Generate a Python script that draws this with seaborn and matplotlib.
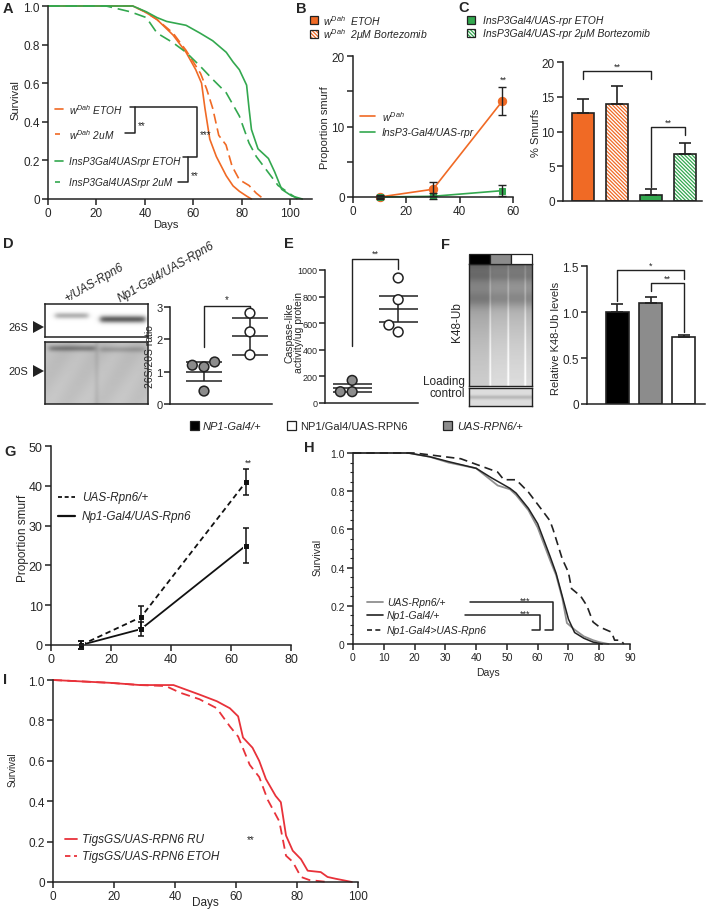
import numpy as np
import pandas as pd
import matplotlib
matplotlib.use("Agg")
import matplotlib.pyplot as plt
import seaborn as sns
from matplotlib.patches import Rectangle, Polygon
from matplotlib.lines import Line2D

# ---------------- data ----------------
# A: survival
a_days_w_etoh = [0, 35, 40, 45, 51.6, 57, 61, 63.4, 64.8, 66.8, 69.5, 73.6, 76.4, 79, 82, 84]
a_surv_w_etoh = [1.0, 1.0, 0.97, 0.93, 0.85, 0.76, 0.67, 0.60, 0.47, 0.31, 0.22, 0.12, 0.068, 0.04, 0.015, 0.0]
a_days_w_2um = [0, 35, 40, 45, 51.6, 57, 61, 63, 65.5, 68, 70.5, 73.5, 76, 79, 83, 86, 89]
a_surv_w_2um = [1.0, 1.0, 0.97, 0.93, 0.86, 0.77, 0.69, 0.65, 0.57, 0.47, 0.33, 0.28, 0.17, 0.10, 0.07, 0.03, 0.0]
a_days_rpr_etoh = [0, 35, 40.6, 45, 49, 57, 62.7, 68, 73.6, 76.4, 79, 82, 83, 84, 86.7, 91, 93.6, 96.5, 100.6, 105]
a_surv_rpr_etoh = [1.0, 1.0, 0.97, 0.94, 0.92, 0.90, 0.86, 0.82, 0.76, 0.71, 0.67, 0.59, 0.47, 0.36, 0.26, 0.21, 0.14, 0.05, 0.016, 0.0]
a_days_rpr_2um = [0, 24, 34, 40.6, 45, 51.6, 57, 62.7, 68, 73.6, 79, 83, 86, 89, 95, 99, 103]
a_surv_rpr_2um = [1.0, 1.0, 0.97, 0.94, 0.86, 0.81, 0.76, 0.69, 0.62, 0.55, 0.43, 0.29, 0.22, 0.17, 0.07, 0.035, 0.0]
a_labels = [r"$w^{Dah}$ ETOH", r"$w^{Dah}$ 2uM", "InsP3Gal4UASrpr ETOH", "InsP3Gal4UASrpr 2uM"]

# B: proportion smurf
b_days = [10, 30, 56]
b_w = [0.0, 1.1, 13.6]
b_w_err = [0.3, 1.0, 2.0]
b_rpr = [0.0, 0.1, 0.9]
b_rpr_err = [0.2, 0.4, 0.8]

# C: % smurfs
c_groups = ["wDah ETOH", "wDah 2uM", "rpr ETOH", "rpr 2uM"]
c_vals = [12.7, 14.0, 0.9, 6.7]
c_err = [2.0, 2.6, 0.8, 1.6]

# D: 26S/20S ratio
d_groups = ["+/UAS-Rpn6", "Np1-Gal4/UAS-Rpn6"]
d_ctrl = [1.2, 1.15, 1.3, 0.4]
d_rpn6 = [2.81, 2.23, 1.52]
d_means = [1.0, 2.1]
d_sems = [0.3, 0.57]

# E: caspase-like activity
e_ctrl = [170, 85, 85]
e_rpn6 = [940, 777, 534, 586]
e_means = [115, 707]
e_sems = [30, 95]

# F: relative K48-Ub
f_groups = ["NP1-Gal4/+", "UAS-RPN6/+", "NP1/Gal4/UAS-RPN6"]
f_vals = [1.0, 1.1, 0.73]
f_err = [0.09, 0.06, 0.02]

# G: proportion smurf
g_days = [10, 30, 65]
g_uas = [0.0, 7.0, 41.0]
g_uas_err = [1.0, 2.7, 3.3]
g_np1 = [0.0, 4.0, 25.0]
g_np1_err = [1.0, 1.7, 4.5]

# H: survival
h_days_uas = [0, 18, 25, 31, 40, 47, 51, 53, 57, 60, 64, 66, 68, 69.5, 72, 75, 78, 80, 83]
h_surv_uas = [1.0, 1.0, 0.98, 0.95, 0.92, 0.83, 0.81, 0.78, 0.70, 0.61, 0.44, 0.36, 0.24, 0.11, 0.075, 0.04, 0.02, 0.01, 0.0]
h_days_np1 = [0, 18, 25, 31, 40, 45, 51, 53, 57, 60, 64, 66, 68, 70, 72, 75, 78, 81]
h_surv_np1 = [1.0, 1.0, 0.98, 0.955, 0.92, 0.87, 0.815, 0.79, 0.71, 0.63, 0.46, 0.37, 0.25, 0.13, 0.06, 0.03, 0.01, 0.0]
h_days_oe = [0, 20, 35, 47, 49, 53, 57, 61, 64, 65, 68, 70, 71, 74, 76, 78, 80, 84, 85, 87, 88]
h_surv_oe = [1.0, 1.0, 0.97, 0.90, 0.86, 0.86, 0.795, 0.71, 0.645, 0.60, 0.445, 0.375, 0.29, 0.25, 0.20, 0.115, 0.09, 0.062, 0.02, 0.02, 0.0]

# I: survival
i_days_ru = [0, 18.7, 28.5, 39.5, 48, 53.7, 58, 60.7, 62.3, 65.4, 67.6, 69.8, 73, 74.7, 76.4, 78.6, 81.3, 83.5, 87.8, 90, 92.7, 95.4, 98]
i_surv_ru = [1.0, 0.986, 0.975, 0.975, 0.928, 0.895, 0.86, 0.82, 0.715, 0.665, 0.60, 0.51, 0.426, 0.395, 0.23, 0.155, 0.113, 0.056, 0.049, 0.025, 0.016, 0.008, 0.0]
i_days_etoh = [0, 18.7, 28.5, 37, 41.7, 48, 53.7, 58, 60.7, 64.5, 67.6, 70.4, 74.2, 76.4, 78.6, 81.3, 84, 87, 90]
i_surv_etoh = [1.0, 0.986, 0.975, 0.97, 0.937, 0.905, 0.86, 0.77, 0.72, 0.58, 0.52, 0.407, 0.30, 0.13, 0.10, 0.025, 0.01, 0.005, 0.0]

# ---------------- style ----------------
sns.set_style("ticks")
plt.rcParams["font.family"] = ["Liberation Sans", "DejaVu Sans"]
plt.rcParams["mathtext.fontset"] = "custom"
plt.rcParams["mathtext.rm"] = "Liberation Sans"
plt.rcParams["mathtext.it"] = "Liberation Sans:italic"
plt.rcParams["axes.linewidth"] = 1.1
plt.rcParams["hatch.linewidth"] = 0.9
plt.rcParams["axes.edgecolor"] = "#222222"

ORANGE = "#F06A25"
GREEN = "#33A84F"
RED = "#E8323A"
GREYH = "#8f8f8f"
GREYBAR = "#8c8c8c"
HATCH = "\\" * 9

W, H = 709, 912
fig = plt.figure(figsize=(W / 100, H / 100), dpi=100)


def ax_px(l, t, r, b):
    return fig.add_axes([l / W, 1 - b / H, (r - l) / W, (b - t) / H])


def style(ax, fs=8, pad=2):
    sns.despine(ax=ax)
    ax.set_facecolor("none")
    ax.tick_params(labelsize=fs, length=4, width=1.1, color="#222222", pad=pad)
    ax.set_xlabel("")
    ax.set_ylabel("")


def T(x, y, s, size=8, ha="left", va="center", **kw):
    fig.text(x / W, 1 - y / H, s, fontsize=size, ha=ha, va=va, **kw)


def L(xs, ys, lw=1.1, color="#222222", ls="-"):
    fig.add_artist(Line2D([x / W for x in xs], [1 - y / H for y in ys], lw=lw,
                          color=color, ls=ls, transform=fig.transFigure))


def SQ(x, y, w, h, fc, hatch=None, hc=None):
    if hatch:
        fig.add_artist(Rectangle((x / W, 1 - (y + h) / H), w / W, h / H, fc="white",
                                 ec=hc, hatch=hatch, lw=0, transform=fig.transFigure))
        fig.add_artist(Rectangle((x / W, 1 - (y + h) / H), w / W, h / H, fill=False,
                                 ec="#222222", lw=0.9, transform=fig.transFigure))
    else:
        fig.add_artist(Rectangle((x / W, 1 - (y + h) / H), w / W, h / H, fc=fc,
                                 ec="#222222", lw=0.9, transform=fig.transFigure))


def surv(ax, x, y, color, ls="-", lw=1.2):
    sns.lineplot(x=x, y=y, ax=ax, color=color, linestyle=ls, linewidth=lw,
                 estimator=None, sort=False)
    ax.lines[-1].set_clip_on(False)


def bracket_data(ax, x0, x1, ytop, yl, yr, lw=1.0):
    ax.plot([x0, x0, x1, x1], [yl, ytop, ytop, yr], color="#222222", lw=lw, clip_on=False)


def sig(z, s):
    return 1.0 / (1.0 + np.exp(-z / s))


# ---------------- panel A ----------------
axA = ax_px(48, 7, 312, 200)
surv(axA, a_days_w_etoh, a_surv_w_etoh, ORANGE)
surv(axA, a_days_w_2um, a_surv_w_2um, ORANGE, ls=(0, (6, 3)))
surv(axA, a_days_rpr_etoh, a_surv_rpr_etoh, GREEN)
surv(axA, a_days_rpr_2um, a_surv_rpr_2um, GREEN, ls=(0, (7, 3.5)))
axA.set_xlim(0, 109)
axA.set_ylim(0, 1.0)
axA.set_xticks([0, 20, 40, 60, 80, 100])
axA.set_yticks([0, 0.2, 0.4, 0.6, 0.8, 1.0])
axA.set_yticklabels(["0", "0.2", "0.4", "0.6", "0.8", "1.0"])
style(axA, 8.5)
T(15, 100, "Survival", 8, ha="center", rotation=90)
T(166, 225, "Days", 8, ha="center")
a_leg_y = [110, 135, 162, 183]
a_leg_c = [ORANGE, ORANGE, GREEN, GREEN]
a_leg_ls = ["-", (0, (3, 2)), "-", (0, (3, 2))]
for yy, cc, ll, lab in zip(a_leg_y, a_leg_c, a_leg_ls, a_labels):
    L([55, 63], [yy, yy], lw=1.2, color=cc, ls=ll)
    T(69, yy, lab, 7.3, style="italic")
L([130, 197, 197, 183], [108, 108, 158, 158])
L([135, 135, 125], [108, 134, 134])
T(138, 126, "**", 7)
L([188, 188, 178], [158, 183, 183])
T(200, 135, "***", 7)
T(191, 176, "**", 7)

# ---------------- panel B ----------------
axB = ax_px(353, 57, 513, 198)
sns.lineplot(x=b_days, y=b_w, ax=axB, color=ORANGE, marker="o", markersize=6,
             markeredgecolor=ORANGE, linewidth=1.2, estimator=None)
sns.lineplot(x=b_days, y=b_rpr, ax=axB, color=GREEN, marker="s", markersize=5,
             markeredgecolor=GREEN, linewidth=1.2, estimator=None)
axB.errorbar(b_days, b_w, yerr=b_w_err, fmt="none", ecolor="#222222", elinewidth=1.0, capsize=3, capthick=1.0)
axB.errorbar(b_days, b_rpr, yerr=b_rpr_err, fmt="none", ecolor="#222222", elinewidth=1.0, capsize=3, capthick=1.0)
for ln in axB.lines:
    ln.set_clip_on(False)
axB.set_xlim(0, 60)
axB.set_ylim(0, 20)
axB.set_xticks([0, 20, 40, 60])
axB.set_yticks([0, 10, 20])
axB.set_yticks([5, 15], minor=True)
axB.tick_params(which="minor", length=4, width=1.1)
style(axB, 8.5)
T(325, 128, "Proportion smurf", 8, ha="center", rotation=90)
T(503, 80, "**", 6.5, ha="center")
L([360, 375], [117, 117], lw=1.2, color=ORANGE)
L([360, 375], [133, 133], lw=1.2, color=GREEN)
T(382, 117, r"$w^{Dah}$", 7.5, style="italic")
T(382, 133, "InsP3-Gal4/UAS-rpr", 7.5, style="italic")
SQ(310, 17, 8, 8, ORANGE)
SQ(310, 31, 8, 8, None, hatch=HATCH, hc=ORANGE)
T(323, 21, r"$w^{Dah}$  ETOH", 7.5, style="italic")
T(323, 35, r"$w^{Dah}$  2μM Bortezomib", 7.5, style="italic")

# ---------------- panel C ----------------
axC = ax_px(563, 63, 702, 202)
sns.barplot(x=c_groups, y=c_vals, hue=c_groups, ax=axC, legend=False,
            palette=[ORANGE, "white", GREEN, "white"], width=0.65, saturation=1,
            edgecolor="#222222", linewidth=1.2, errorbar=None)
c_hatch_col = [None, ORANGE, None, GREEN]
for p, hc in zip(axC.patches, c_hatch_col):
    if hc:
        p.set_hatch(HATCH)
        p.set_edgecolor(hc)
        p.set_linewidth(0)
        axC.add_patch(Rectangle((p.get_x(), p.get_y()), p.get_width(), p.get_height(),
                                fill=False, ec="#222222", lw=1.2, zorder=p.get_zorder() + 0.1))
axC.errorbar(np.arange(len(c_vals)), c_vals, yerr=[np.zeros(len(c_err)), c_err], fmt="none",
             ecolor="#222222", elinewidth=1.2, capsize=4, capthick=1.2, zorder=3)
axC.set_xlim(-0.59, 3.5)
axC.set_ylim(0, 20)
axC.set_yticks([0, 5, 10, 15, 20])
axC.set_xticks([])
style(axC, 8.5)
bracket_data(axC, 0, 2, 18.7, 17.6, 17.6)
axC.text(1, 18.8, "**", fontsize=6.5, ha="center", va="bottom")
bracket_data(axC, 2, 3, 10.6, 2.0, 9.5)
axC.text(2.5, 10.7, "**", fontsize=6.5, ha="center", va="bottom")
T(536, 133, "% Smurfs", 8, ha="center", rotation=90)
SQ(467, 17, 8, 8, GREEN)
SQ(467, 30, 8, 8, None, hatch=HATCH, hc=GREEN)
T(483, 21, "InsP3Gal4/UAS-rpr ETOH", 7.5, style="italic")
T(483, 34, "InsP3Gal4/UAS-rpr 2μM Bortezomib", 7.5, style="italic")

# ---------------- panel D ----------------
yy, xx = np.mgrid[0:66, 0:206]
img = np.ones((66, 206))
img -= 0.30 * sig(xx - 20, 3) * sig(86 - xx, 3) * np.exp(-((yy - 24) / 6.0) ** 2)
img -= 0.62 * sig(xx - 110, 3) * sig(200 - xx, 3) * np.exp(-((yy - 31) / 7.0) ** 2)
axD1 = ax_px(45, 305, 148, 338)
axD1.imshow(img, cmap="gray", vmin=0, vmax=1, aspect="auto", interpolation="bilinear")
axD1.set_xticks([]); axD1.set_yticks([])
yy, xx = np.mgrid[0:124, 0:206]
img2 = 0.74 + 0.015 * np.sin(xx / 11.0 + yy / 17.0) + 0.03 * (yy / 124)
img2 -= 0.26 * sig(xx - 8, 3) * sig(100 - xx, 3) * np.exp(-((yy - 14) / 6.0) ** 2)
img2 -= 0.14 * sig(xx - 110, 3) * sig(200 - xx, 3) * np.exp(-((yy - 16) / 6.0) ** 2)
img2 -= 0.05 * np.exp(-((xx - 103) / 5.0) ** 2)
axD2 = ax_px(45, 343, 148, 405)
axD2.imshow(img2, cmap="gray", vmin=0, vmax=1, aspect="auto", interpolation="bilinear")
axD2.set_xticks([]); axD2.set_yticks([])
for a in (axD1, axD2):
    for s in a.spines.values():
        s.set_linewidth(1.1)
T(8, 328, "26S", 8)
T(8, 372, "20S", 8)
for yc in (328, 372):
    fig.add_artist(Polygon([(33 / W, 1 - (yc - 6) / H), (33 / W, 1 - (yc + 6) / H), (44 / W, 1 - yc / H)],
                           closed=True, fc="#222222", ec="none", transform=fig.transFigure))
T(67, 302, d_groups[0], 8.5, va="baseline", rotation=30, rotation_mode="anchor", style="italic")
T(120, 302, d_groups[1], 8.5, va="baseline", rotation=30, rotation_mode="anchor", style="italic")

axD = ax_px(170, 308, 272, 405)
d_df = pd.DataFrame({"g": ["a"] * len(d_ctrl) + ["b"] * len(d_rpn6), "v": d_ctrl + d_rpn6})
sns.swarmplot(data=d_df, x="g", y="v", hue="g", palette={"a": GREYBAR, "b": "white"},
              ax=axD, size=7, edgecolor="#222222", linewidth=1.1, legend=False, zorder=3)
for i, (m, s) in enumerate(zip(d_means, d_sems)):
    axD.hlines([m - s, m, m + s], i - 0.4, i + 0.4, color="#222222", lw=1.1, zorder=2)
    axD.vlines(i, m - s, m + s, color="#222222", lw=1.1, zorder=2)
axD.set_xlim(-0.74, 1.48)
axD.set_ylim(0, 3)
axD.set_yticks([0, 1, 2, 3])
axD.set_xticks([])
style(axD, 8, pad=1.5)
bracket_data(axD, 0, 1, 3.03, 1.76, 2.94)
axD.text(0.5, 3.08, "*", fontsize=7, ha="center", va="bottom")
T(150, 357, "26S/20S ratio", 7.5, ha="center", rotation=90)

# ---------------- panel E ----------------
axE = ax_px(325, 271, 418, 404)
e_df = pd.DataFrame({"g": ["a"] * len(e_ctrl) + ["b"] * len(e_rpn6), "v": e_ctrl + e_rpn6})
sns.swarmplot(data=e_df, x="g", y="v", hue="g", palette={"a": GREYBAR, "b": "white"},
              ax=axE, size=7, edgecolor="#222222", linewidth=1.1, legend=False, zorder=3)
for i, (m, s) in enumerate(zip(e_means, e_sems)):
    axE.hlines([m - s, m, m + s], i - 0.42, i + 0.42, color="#222222", lw=1.1, zorder=2)
    axE.vlines(i, m - s, m + s, color="#222222", lw=1.1, zorder=2)
axE.set_xlim(-0.59, 1.43)
axE.set_ylim(0, 1000)
axE.set_yticks([0, 200, 400, 600, 800, 1000])
axE.set_xticks([])
style(axE, 6.5, pad=1.5)
bracket_data(axE, 0, 1, 1083, 430, 1008)
axE.text(0.5, 1090, "**", fontsize=6.5, ha="center", va="bottom")
T(294, 333, "Caspase-like\nactivity/ug protein", 7.5, ha="center", rotation=90, linespacing=0.9)

# ---------------- panel F ----------------
SQ(469, 255, 21, 10, "black")
SQ(490, 255, 21, 10, GREYBAR)
SQ(511, 255, 21, 10, "white")
yy, xx = np.mgrid[0:244, 0:126]
img3 = 0.93 - 0.5 * np.exp(-yy / 120.0)
img3 -= 0.12 * np.exp(-((yy - 70) / 16.0) ** 2)
img3 -= 0.05 * np.exp(-((yy - 25) / 9.0) ** 2)
img3 -= 0.06 * sig(42 - xx, 2)
for xs in (42, 78, 112):
    img3 += 0.22 * np.exp(-((xx - xs) / 1.6) ** 2) * (1 - 0.6 * np.exp(-yy / 60.0))
img3 = np.clip(img3, 0, 1)
axF1 = ax_px(469, 265, 532, 387)
axF1.imshow(img3, cmap="gray", vmin=0, vmax=1, aspect="auto", interpolation="bilinear")
axF1.set_xticks([]); axF1.set_yticks([])
yy, xx = np.mgrid[0:36, 0:126]
img4 = 0.87 - 0.15 * np.exp(-((yy - 18) / 4.0) ** 2)
axF2 = ax_px(469, 389, 532, 407)
axF2.imshow(img4, cmap="gray", vmin=0, vmax=1, aspect="auto", interpolation="bilinear")
axF2.set_xticks([]); axF2.set_yticks([])
for a in (axF1, axF2):
    for s in a.spines.values():
        s.set_linewidth(1.0)
T(457, 322, "K48-Ub", 8.5, ha="center", rotation=90)
T(465, 388, "Loading\ncontrol", 8.5, ha="right", linespacing=1.0)

axF = ax_px(587, 267, 705, 405)
sns.barplot(x=f_groups, y=f_vals, hue=f_groups, ax=axF, legend=False,
            palette=["black", GREYBAR, "white"], width=0.69, saturation=1,
            edgecolor="#222222", linewidth=1.2, errorbar=None)
axF.errorbar(np.arange(len(f_vals)), f_vals, yerr=[np.zeros(len(f_err)), f_err], fmt="none",
             ecolor="#222222", elinewidth=1.2, capsize=4, capthick=1.2, zorder=3)
axF.set_xlim(-0.9, 2.63)
axF.set_ylim(0, 1.5)
axF.set_yticks([0, 0.5, 1.0, 1.5])
axF.set_yticklabels(["0", "0.5", "1.0", "1.5"])
axF.set_xticks([])
style(axF, 8.5)
bracket_data(axF, 0, 2, 1.457, 1.12, 1.36)
axF.text(1, 1.46, "*", fontsize=6.5, ha="center", va="bottom")
bracket_data(axF, 1, 2, 1.315, 1.23, 0.78)
axF.text(1.5, 1.32, "**", fontsize=6.5, ha="center", va="bottom")
T(556, 338, "Relative K48-Ub levels", 8, ha="center", rotation=90)

SQ(190, 422, 9, 9, "black")
T(203, 427, "NP1-Gal4/+", 8, style="italic")
SQ(287, 422, 9, 9, "white")
T(300, 427, "NP1/Gal4/UAS-RPN6", 8)
SQ(443, 422, 9, 9, GREYBAR)
T(457, 427, "UAS-RPN6/+", 8, style="italic")

# ---------------- panel G ----------------
axG = ax_px(51, 447, 291, 646)
sns.lineplot(x=g_days, y=g_uas, ax=axG, color="#111111", linestyle=(0, (3, 2)), linewidth=1.3,
             marker="s", markersize=4, estimator=None)
sns.lineplot(x=g_days, y=g_np1, ax=axG, color="#111111", linewidth=1.3,
             marker="s", markersize=4, estimator=None)
axG.errorbar(g_days, g_uas, yerr=g_uas_err, fmt="none", ecolor="#111111", elinewidth=1.1, capsize=2.5, capthick=1.1)
axG.errorbar(g_days, g_np1, yerr=g_np1_err, fmt="none", ecolor="#111111", elinewidth=1.1, capsize=2.5, capthick=1.1)
for ln in axG.lines:
    ln.set_clip_on(False)
axG.set_xlim(0, 80)
axG.set_ylim(0, 50)
axG.set_xticks([0, 20, 40, 60, 80])
axG.set_yticks([0, 10, 20, 30, 40, 50])
style(axG, 9)
T(23, 538, "Proportion smurf", 8.5, ha="center", rotation=90)
T(248, 463, "**", 6.5, ha="center")
L([58, 75], [498, 498], lw=1.3, color="#111111", ls=(0, (2.2, 1.5)))
L([58, 75], [517, 517], lw=1.6, color="#111111")
T(82, 498, "UAS-Rpn6/+", 8.5, style="italic")
T(82, 517, "Np1-Gal4/UAS-Rpn6", 8.5, style="italic")

# ---------------- panel H ----------------
axH = ax_px(353, 454, 630, 645)
surv(axH, h_days_uas, h_surv_uas, GREYH, lw=1.3)
surv(axH, h_days_np1, h_surv_np1, "#222222", lw=1.1)
surv(axH, h_days_oe, h_surv_oe, "#222222", ls=(0, (5, 3)), lw=1.2)
axH.set_xlim(0, 90)
axH.set_ylim(0, 1.0)
axH.set_xticks(range(0, 91, 10))
axH.set_yticks([0, 0.2, 0.4, 0.6, 0.8, 1.0])
axH.set_yticklabels(["0", "0.2", "0.4", "0.6", "0.8", "1.0"])
axH.set_yticks(np.arange(0, 1.001, 0.05), minor=True)
axH.tick_params(which="minor", length=2, width=0.8)
style(axH, 7.5)
T(318, 557, "Survival", 7.5, ha="center", rotation=90)
T(488, 673, "Days", 7.5, ha="center")
L([367, 383], [603, 603], lw=1.3, color=GREYH)
L([367, 383], [616, 616], lw=1.2, color="#222222")
L([367, 383], [631, 631], lw=1.2, color="#222222", ls=(0, (3, 2)))
T(387, 603, "UAS-Rpn6/+", 7.5, style="italic")
T(387, 616, "Np1-Gal4/+", 7.5, style="italic")
T(387, 631, "Np1-Gal4>UAS-Rpn6", 7.5, style="italic")
L([470, 553, 553, 545], [603, 603, 631, 631])
L([465, 540, 540, 532], [616, 616, 631, 631])
T(525, 601, "***", 6.5, ha="center")
T(525, 614, "***", 6.5, ha="center")

# ---------------- panel I ----------------
axI = ax_px(53, 681, 358, 883)
surv(axI, i_days_ru, i_surv_ru, RED, lw=1.3)
surv(axI, i_days_etoh, i_surv_etoh, RED, ls=(0, (5, 3)), lw=1.3)
axI.set_xlim(0, 100)
axI.set_ylim(0, 1.0)
axI.set_xticks([0, 20, 40, 60, 80, 100])
axI.set_yticks([0, 0.2, 0.4, 0.6, 0.8, 1.0])
axI.set_yticklabels(["0", "0.2", "0.4", "0.6", "0.8", "1.0"])
style(axI, 8.5)
T(13, 770, "Survival", 7, ha="center", rotation=90)
T(205, 903, "Days", 8.5, ha="center")
L([65, 77], [840, 840], lw=1.3, color=RED)
L([65, 77], [857, 857], lw=1.3, color=RED, ls=(0, (3, 2)))
T(82, 840, "TigsGS/UAS-RPN6 RU", 8.5, style="italic")
T(82, 857, "TigsGS/UAS-RPN6 ETOH", 8.5, style="italic")
T(251, 840, "**", 7, ha="center")

# ---------------- panel letters ----------------
for lab, x, y in [("A", 3, 9), ("B", 296, 9), ("C", 458, 8), ("D", 3, 244), ("E", 284, 244),
                  ("F", 441, 245), ("G", 4, 452), ("H", 304, 448), ("I", 3, 680)]:
    T(x, y, lab, 10.5, weight="bold")

fig.savefig("out.png", dpi=100)
